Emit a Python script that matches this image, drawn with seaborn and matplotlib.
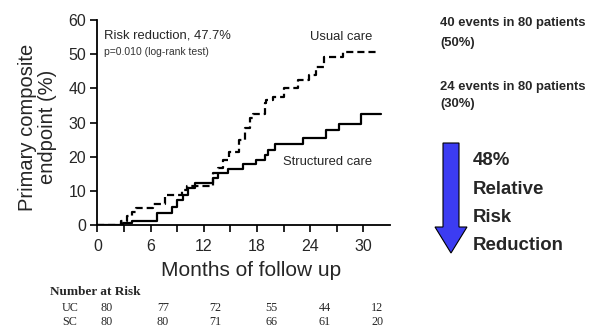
import matplotlib
matplotlib.use("Agg")
import matplotlib.pyplot as plt
import seaborn as sns
import pandas as pd
from matplotlib.patches import FancyArrow

# ---- data ----
uc_months = [0, 2.7, 3.3, 3.9, 4.4, 6.3, 7.6, 9.5, 10.1, 13.0, 13.6, 14.2, 14.9, 16.0, 16.6, 17.2, 17.6,
             18.9, 19.0, 19.8, 21.1, 22.6, 23.9, 24.7, 25.6, 27.7, 31.4]
uc_pct = [0, 1.25, 2.5, 3.9, 5.0, 6.3, 8.75, 10.2, 11.4, 15.1, 16.6, 19.0, 21.5, 24.9, 28.3, 31.2, 32.5,
          35.6, 36.6, 37.6, 40.0, 42.4, 43.9, 46.3, 49.1, 50.7, 50.7]
sc_months = [0, 2.9, 3.9, 6.7, 8.4, 9.0, 9.7, 10.2, 11.0, 13.0, 13.6, 14.7, 16.4, 17.9, 18.9, 19.2,
             20.0, 23.2, 25.8, 27.3, 29.7, 32.0]
sc_pct = [0, 0.7, 1.25, 3.6, 5.4, 7.3, 8.8, 10.7, 12.4, 13.8, 15.1, 16.3, 17.8, 19.0, 20.5, 22.0,
          23.7, 25.4, 27.8, 29.5, 32.4, 32.4]

risk_groups = ["UC", "SC"]
risk_uc = [80, 77, 72, 55, 44, 12]
risk_sc = [80, 80, 71, 66, 61, 20]
x_ticks = [0, 6, 12, 18, 24, 30]
y_ticks = [0, 10, 20, 30, 40, 50, 60]

sns.set_style("ticks")
plt.rcParams['font.family'] = ['Liberation Sans', 'DejaVu Sans']

fig = plt.figure(figsize=(5.9, 3.29), dpi=100)
ax = fig.add_axes([0.165, 0.316, 0.496, 0.623])

df_uc = pd.DataFrame({"month": uc_months, "pct": uc_pct})
df_sc = pd.DataFrame({"month": sc_months, "pct": sc_pct})
sns.lineplot(data=df_uc, x="month", y="pct", ax=ax, color="black", lw=1.6,
             drawstyle="steps-post", estimator=None, sort=False, linestyle=(0, (3.2, 1.8)))
sns.lineplot(data=df_sc, x="month", y="pct", ax=ax, color="black", lw=1.6,
             drawstyle="steps-post", estimator=None, sort=False)

ax.set_xlim(0, 33)
ax.set_ylim(0, 60)
ax.set_xticks(x_ticks)
ax.set_xticks([3, 9, 15, 21, 27], minor=True)
ax.set_yticks(y_ticks)
ax.tick_params(axis="both", which="both", direction="out", length=5, width=1.2, color="black",
               labelsize=11.5)
ax.tick_params(axis="x", pad=5)
ax.tick_params(axis="y", pad=3)
for s in ["top", "right"]:
    ax.spines[s].set_visible(False)
for s in ["left", "bottom"]:
    ax.spines[s].set_linewidth(1.3)
    ax.spines[s].set_color("black")
ax.set_xlabel("Months of follow up", fontsize=15, va="center")
ax.xaxis.set_label_coords(0.525, -0.22)
ax.set_ylabel("Primary composite\nendpoint (%)", fontsize=14.5, linespacing=1.05, va="center")
ax.yaxis.set_label_coords(-0.204, 0.478)

ax.text(0.7, 55.6, "Risk reduction, 47.7%", fontsize=9.4, va="center", ha="left")
ax.text(0.7, 50.6, "p=0.010 (log-rank test)", fontsize=7.5, va="center", ha="left", color="#333333")
ax.text(31.0, 55.0, "Usual care", fontsize=9.4, va="center", ha="right")
ax.text(20.9, 18.4, "Structured care", fontsize=9.4, va="center", ha="left")

# right side annotations
fs_r = 9.4
fig.text(440/590, 1 - 23/329, "40 events in 80 patients", fontsize=fs_r, fontweight="bold", va="center")
fig.text(440/590, 1 - 43/329, "(50%)", fontsize=fs_r, fontweight="bold", va="center")
fig.text(440/590, 1 - 87/329, "24 events in 80 patients", fontsize=fs_r, fontweight="bold", va="center")
fig.text(440/590, 1 - 104/329, "(30%)", fontsize=fs_r, fontweight="bold", va="center")

arrow = FancyArrow(451/590, 1 - 143/329, 0, -(253 - 143)/329, width=16/590,
                   head_width=32/590, head_length=26/329, length_includes_head=True,
                   transform=fig.transFigure, facecolor="#3c3cf2", edgecolor="black", lw=0.8)
fig.patches.append(arrow)
for txt, py in [("48%", 160), ("Relative", 189), ("Risk", 218), ("Reduction", 246)]:
    fig.text(473/590, 1 - py/329, txt, fontsize=13.4, fontweight="bold", va="center")

# number at risk table
serif = ['Liberation Serif', 'DejaVu Serif']
fig.text(50/590, 1 - 292/329, "Number at Risk", fontsize=9.5, fontweight="bold", family=serif, va="center")
col_px = [107, 163, 215, 271, 325, 377]
for grp, vals, py in [(risk_groups[0], risk_uc, 308), (risk_groups[1], risk_sc, 322)]:
    fig.text(70/590, 1 - py/329, grp, fontsize=8.7, family=serif, va="center", ha="center")
    for cx, v in zip(col_px, vals):
        fig.text(cx/590, 1 - py/329, str(v), fontsize=8.7, family=serif, va="center", ha="center")

fig.savefig("out.png", dpi=100, facecolor="white")
